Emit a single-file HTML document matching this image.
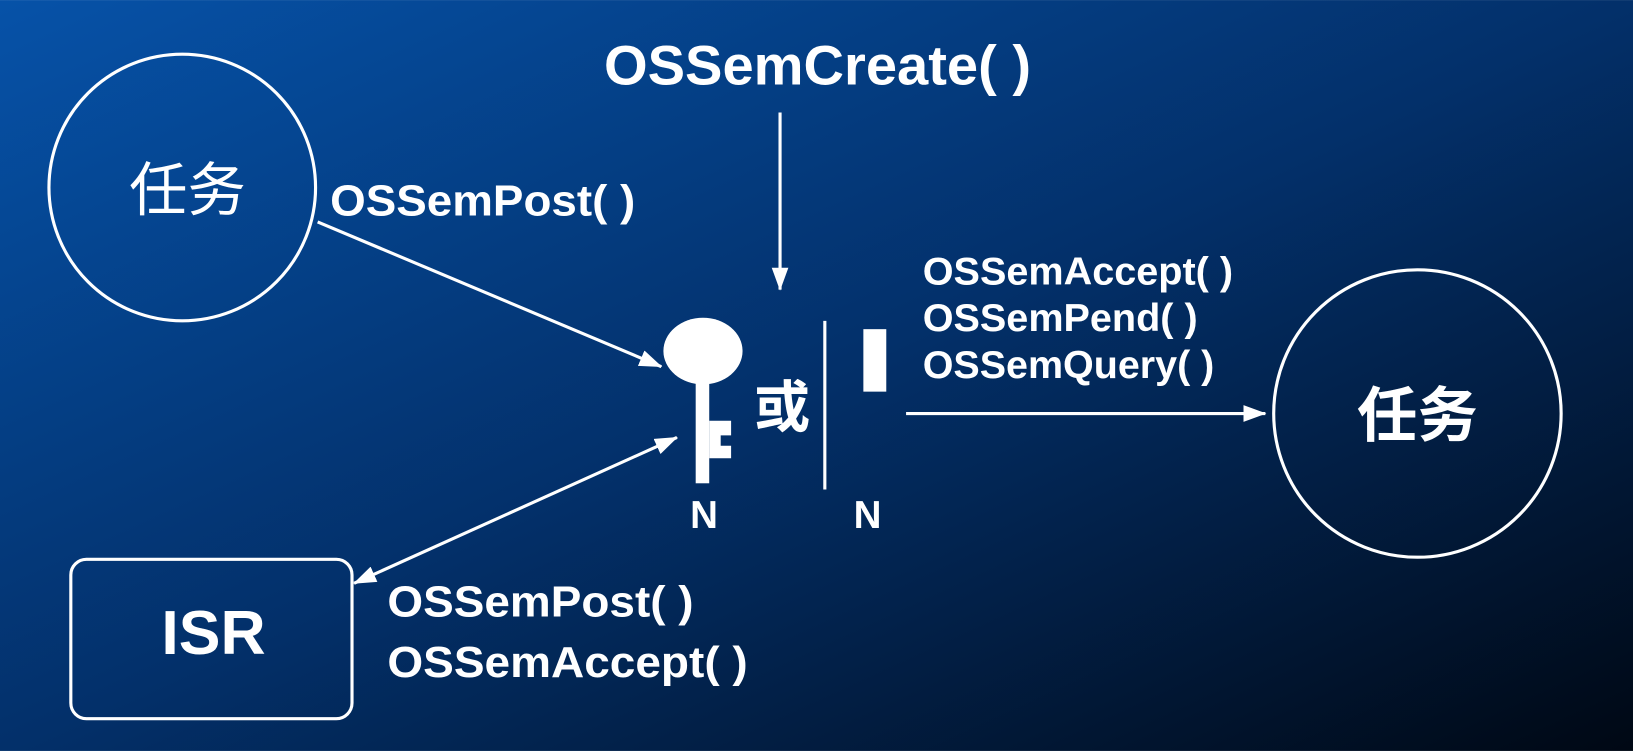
<!DOCTYPE html>
<html><head><meta charset="utf-8"><style>
html,body{margin:0;padding:0;width:1633px;height:751px;overflow:hidden}
svg{display:block}
text{font-family:"Liberation Sans","Noto Sans CJK SC",sans-serif;fill:#fff}
</style></head><body>
<svg width="1633" height="751" viewBox="0 0 1568 721" xmlns="http://www.w3.org/2000/svg">
<defs>
<linearGradient id="bg" x1="0" y1="0" x2="1" y2="1">
<stop offset="0" stop-color="#0652a8"/>
<stop offset="0.5" stop-color="#03306a"/>
<stop offset="1" stop-color="#000814"/>
</linearGradient>
<marker id="ah2" markerWidth="22" markerHeight="16" refX="21" refY="8" orient="auto-start-reverse" markerUnits="userSpaceOnUse" viewBox="0 0 22 16">
<path d="M0,0 L22,8 L0,16 z" fill="#fff"/>
</marker>
</defs>
<rect width="1568" height="721" fill="url(#bg)"/>
<g stroke="#fff" stroke-width="3" fill="none">
<circle cx="175" cy="180" r="128"/>
<circle cx="1361" cy="397" r="138"/>
<rect x="68" y="537" width="270" height="153" rx="15"/>
<line x1="749" y1="108" x2="749" y2="278" marker-end="url(#ah2)"/>
<line x1="305" y1="213" x2="635" y2="352" marker-end="url(#ah2)"/>
<line x1="340" y1="560" x2="650" y2="420" marker-start="url(#ah2)" marker-end="url(#ah2)"/>
<line x1="870" y1="397" x2="1215" y2="397" marker-end="url(#ah2)"/>
<line x1="792" y1="308" x2="792" y2="470"/>
</g>
<g fill="#fff">
<ellipse cx="675" cy="337" rx="38" ry="32"/>
<rect x="668" y="360" width="13" height="104"/>
<path d="M681,404 H702 V418 H692 V428 H702 V440 H681 z"/>
<rect x="829" y="316" width="22" height="60"/>
</g>
<text x="180" y="202" font-size="56" text-anchor="middle">任务</text>
<text x="1361" y="419" font-size="58" font-weight="bold" text-anchor="middle">任务</text>
<text x="205" y="628" font-size="60" font-weight="bold" text-anchor="middle">ISR</text>
<text x="580" y="81" font-size="53" font-weight="bold" textLength="410" lengthAdjust="spacingAndGlyphs">OSSemCreate( )</text>
<text x="317" y="207" font-size="42" font-weight="bold" textLength="293" lengthAdjust="spacingAndGlyphs">OSSemPost( )</text>
<text x="372" y="592" font-size="42" font-weight="bold" textLength="294" lengthAdjust="spacingAndGlyphs">OSSemPost( )</text>
<text x="372" y="650" font-size="42" font-weight="bold" textLength="346" lengthAdjust="spacingAndGlyphs">OSSemAccept( )</text>
<text x="886" y="273" font-size="37" font-weight="bold" textLength="298" lengthAdjust="spacingAndGlyphs">OSSemAccept( )</text>
<text x="886" y="318" font-size="37" font-weight="bold" textLength="264" lengthAdjust="spacingAndGlyphs">OSSemPend( )</text>
<text x="886" y="363" font-size="37" font-weight="bold" textLength="280" lengthAdjust="spacingAndGlyphs">OSSemQuery( )</text>
<text x="751" y="410" font-size="54" font-weight="bold" text-anchor="middle">或</text>
<text x="676" y="507" font-size="37" font-weight="bold" text-anchor="middle">N</text>
<text x="833" y="507" font-size="37" font-weight="bold" text-anchor="middle">N</text>
</svg>
</body></html>
